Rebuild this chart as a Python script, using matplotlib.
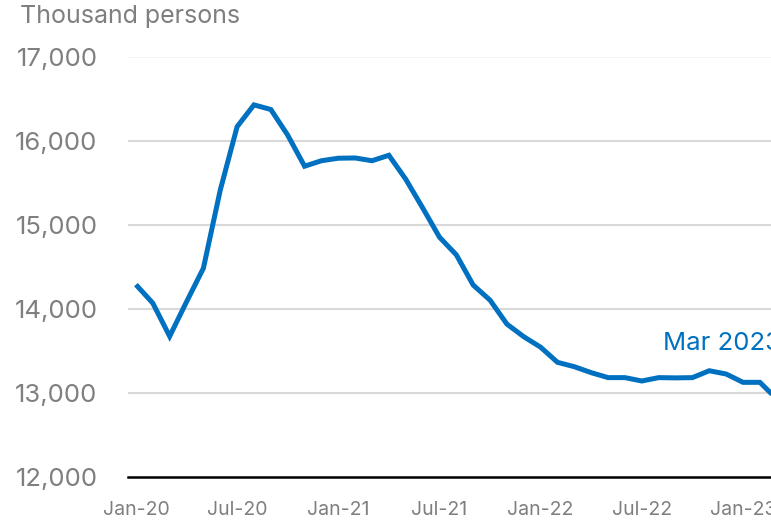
import numpy as np
import matplotlib.pyplot as plt

plt.rcParams['font.family'] = ['Inter', 'DejaVu Sans']

# monthly series, Jan 2020 .. Mar 2023 (thousand persons)
months = ['Jan-20', 'Feb-20', 'Mar-20', 'Apr-20', 'May-20', 'Jun-20', 'Jul-20', 'Aug-20', 'Sep-20', 'Oct-20',
          'Nov-20', 'Dec-20', 'Jan-21', 'Feb-21', 'Mar-21', 'Apr-21', 'May-21', 'Jun-21', 'Jul-21', 'Aug-21',
          'Sep-21', 'Oct-21', 'Nov-21', 'Dec-21', 'Jan-22', 'Feb-22', 'Mar-22', 'Apr-22', 'May-22', 'Jun-22',
          'Jul-22', 'Aug-22', 'Sep-22', 'Oct-22', 'Nov-22', 'Dec-22', 'Jan-23', 'Feb-23', 'Mar-23']
persons = [14290, 14070, 13675, 14085, 14485, 15415, 16170, 16430, 16375, 16070,
           15700, 15765, 15795, 15798, 15765, 15830, 15545, 15205, 14855, 14645,
           14285, 14105, 13820, 13670, 13545, 13365, 13313, 13242, 13183, 13183,
           13143, 13183, 13180, 13183, 13265, 13226, 13127, 13127, 12930]
tick_labels = ['Jan-20', 'Jul-20', 'Jan-21', 'Jul-21', 'Jan-22', 'Jul-22', 'Jan-23']
y_ticks = [12000, 13000, 14000, 15000, 16000, 17000]

blue = '#0070c0'
grey = '#7f7f7f'

x = np.arange(len(months))

fig = plt.figure(figsize=(7.71, 5.24), dpi=100)
ax = fig.add_axes([128 / 771, 1 - 477 / 524, 1 - 128 / 771, 420 / 524])

ax.plot(x, persons, color=blue, lw=3.6, solid_joinstyle='miter', solid_capstyle='butt')

ax.set_ylim(12000, 17000)
ax.set_xlim(-0.47, 37.66)
ax.set_yticks(y_ticks)
ax.set_yticklabels([f'{v:,}' for v in y_ticks])
ax.set_xticks([months.index(m) for m in tick_labels])
ax.set_xticklabels(tick_labels)

for v in y_ticks[1:-1]:
    ax.axhline(v, color='#d9d9d9', lw=1.5, zorder=0)
ax.axhline(17000, color='#f2f2f2', lw=1.2, zorder=0)

for s in ['top', 'right', 'left']:
    ax.spines[s].set_visible(False)
ax.spines['bottom'].set_color('black')
ax.spines['bottom'].set_linewidth(1.8)

ax.tick_params(axis='y', length=0, pad=22, labelsize=18.5, labelcolor=grey)
ax.tick_params(axis='x', length=0, pad=17, labelsize=14, labelcolor=grey)

ax.text(31.25, persons[-1] + 660, 'Mar 2023', color=blue, fontsize=18.5, va='center', ha='left', clip_on=False)

fig.text(20 / 771, 1 - 17 / 524, 'Thousand persons', color=grey, fontsize=18, va='center', ha='left')

fig.savefig('out.png', dpi=100)
